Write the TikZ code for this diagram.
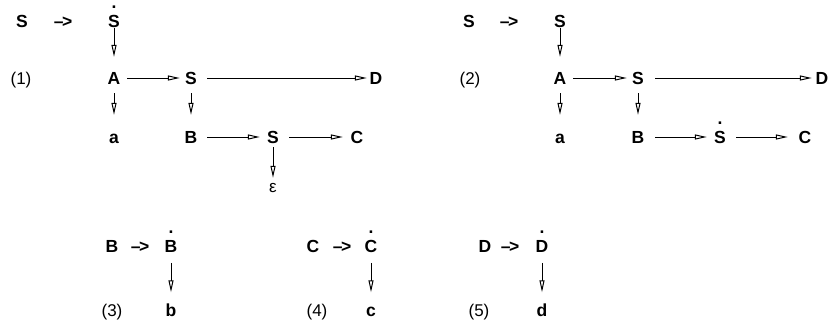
\documentclass[tikz,border=0pt]{standalone}
\usepackage{fontspec}
\setmainfont{Liberation Sans}
\usetikzlibrary{arrows.meta}
\newcommand{\dotover}[1]{\ooalign{#1\cr\hidewidth\raisebox{18.5pt}{.}\hidewidth\cr}}
\newcommand{\yields}{\textendash\kern-1.5pt>}
\begin{document}
\begin{tikzpicture}[x=1pt,y=-1pt,
  sym/.style={font=\fontsize{17.5}{20}\selectfont\bfseries, inner sep=0pt, text height=12.5pt, text depth=0pt},
  lab/.style={font=\fontsize{17}{20}\selectfont, inner sep=0pt, text height=12.5pt, text depth=0pt},
  arr/.style={draw, line width=0.9pt, -{Triangle[open,length=12pt,width=5pt,line width=1pt]}}]
\useasboundingbox (0,0) rectangle (828,321);
% panel 1
\node[sym] (p1s) at (22,21) {S};
\node[sym] (p1r) at (63,21) {\yields};
\node[sym] (p1top) at (114,21) {\dotover{S}};
\node[lab] (p1n) at (21,78) {(1)};
\node[sym] (p1A) at (114,78) {A};
\node[sym] (p1S) at (191,78) {S};
\node[sym] (p1D) at (376,78) {D};
\node[sym] (p1a) at (114,137) {a};
\node[sym] (p1B) at (191,137) {B};
\node[sym] (p1S2) at (273,137) {S};
\node[sym] (p1C) at (357,137) {C};
\node[lab] (p1e) at (273,186) {ε};
\draw[arr, shorten <=0.7pt, shorten >=14.7pt] (p1top) -- (p1A);
\draw[arr, shorten <=8.7pt, shorten >=15.7pt] (p1A) -- (p1a);
\draw[arr, shorten <=8.7pt, shorten >=15.7pt] (p1S) -- (p1B);
\draw[arr, shorten <=3.7pt, shorten >=1.7pt] (p1S2) -- (p1e);
\draw[arr, shorten <=6.6pt, shorten >=5.1pt] (p1A) -- (p1S);
\draw[arr, shorten <=10.1pt, shorten >=2.6pt] (p1S) -- (p1D);
\draw[arr, shorten <=9.6pt, shorten >=7.1pt] (p1B) -- (p1S2);
\draw[arr, shorten <=10.1pt, shorten >=7.6pt] (p1S2) -- (p1C);
% panel 2
\node[sym] (p2s) at (469,21) {S};
\node[sym] (p2r) at (509,21) {\yields};
\node[sym] (p2top) at (560,21) {S};
\node[lab] (p2n) at (470,78) {(2)};
\node[sym] (p2A) at (560,78) {A};
\node[sym] (p2S) at (638,78) {S};
\node[sym] (p2D) at (822,78) {D};
\node[sym] (p2a) at (560,137) {a};
\node[sym] (p2B) at (638,137) {B};
\node[sym] (p2S2) at (720,137) {\dotover{S}};
\node[sym] (p2C) at (805,137) {C};
\draw[arr, shorten <=0.7pt, shorten >=14.7pt] (p2top) -- (p2A);
\draw[arr, shorten <=8.7pt, shorten >=15.7pt] (p2A) -- (p2a);
\draw[arr, shorten <=8.7pt, shorten >=15.7pt] (p2S) -- (p2B);
\draw[arr, shorten <=6.6pt, shorten >=5.1pt] (p2A) -- (p2S);
\draw[arr, shorten <=11.1pt, shorten >=3.6pt] (p2S) -- (p2D);
\draw[arr, shorten <=10.6pt, shorten >=7.1pt] (p2B) -- (p2S2);
\draw[arr, shorten <=10.1pt, shorten >=10.6pt] (p2S2) -- (p2C);
% panel 3
\node[sym] (p3l) at (112,246) {B};
\node[sym] (p3r) at (140,246) {\yields};
\node[sym] (p3top) at (171,246) {\dotover{B}};
\node[sym] (p3b) at (171,310) {b};
\node[lab] (p3n) at (112,310) {(3)};
\draw[arr, shorten <=10.3pt, shorten >=11.3pt] (p3top) -- (p3b);
% panel 4
\node[sym] (p4l) at (313,246) {C};
\node[sym] (p4r) at (342,246) {\yields};
\node[sym] (p4top) at (371,246) {\dotover{C}};
\node[sym] (p4c) at (371,310) {c};
\node[lab] (p4n) at (317,310) {(4)};
\draw[arr, shorten <=10.3pt, shorten >=11.3pt] (p4top) -- (p4c);
% panel 5
\node[sym] (p5l) at (485,246) {D};
\node[sym] (p5r) at (510,246) {\yields};
\node[sym] (p5top) at (542,246) {\dotover{D}};
\node[sym] (p5d) at (542,310) {d};
\node[lab] (p5n) at (479,310) {(5)};
\draw[arr, shorten <=10.3pt, shorten >=11.3pt] (p5top) -- (p5d);
\end{tikzpicture}
\end{document}
